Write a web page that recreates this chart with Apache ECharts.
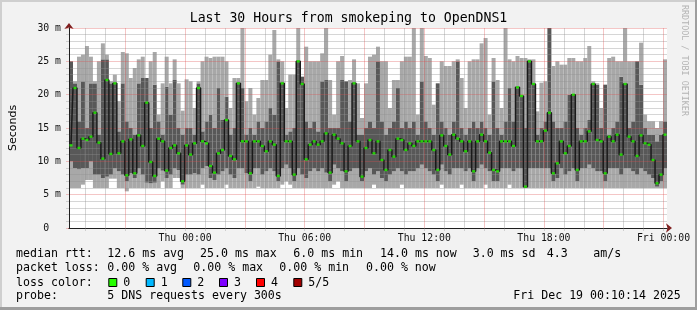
<!DOCTYPE html>
<html><head><meta charset="utf-8">
<script src="https://cdn.jsdelivr.net/npm/echarts@6/dist/echarts.min.js"></script>
<style>html,body{margin:0;padding:0;background:#f2f2f2;}#c{width:697px;height:310px;}</style>
</head><body><div id="c"></div>
<script>
// ---- data: 150 consolidated steps of 12 minutes, Wed 18:10 -> Fri 00:10 (ms) ----
const MAXV = [
25,22,25.7,26,27.3,25.7,22,25,27.7,26,
22,23,19,26.4,26.2,22.5,24,25.3,25.7,22.5,
25,26.4,17,21.7,25.7,21.7,25.3,21.7,17.6,22.3,
22,18,22,25,25.7,25.5,25.7,25.7,25.7,25,
18,22.5,22.5,30,19,21,17,19.5,22.2,22.2,
26,29.7,25.3,25,18,23,23,30,22.7,27.2,
25,25,25,26.2,30,22.2,17,25,25.8,22,
22.2,25.3,21.7,16.5,21.7,25.7,26,27.2,25,25,
18,22.2,22.2,25,25.7,25.7,30,17,30,25.8,
25.5,18.5,21.7,25,24.3,24.3,25,25.3,22.5,18,
25,25.3,25.3,27.7,28.5,17,25.5,22.2,18,30,
25.3,25,25.8,25.5,25.5,25.3,25.3,17.5,21.8,22,
30,24.3,25,24.5,24.5,25.5,25.5,25,25,25.5,
27.3,22,21.7,18,21.5,25.5,25.7,25,25,30,
25,25,25,27.8,17,16,16,15,16,25.3];
const Q3V = [
25,21.7,16,22,15,21.7,21.7,14,25.3,25.3,
21.7,21.7,14.5,21.7,16,15,14,21.7,22.5,22.5,
15,21.5,16,14,21.2,17,22.2,15,14,15,
15,14,21.7,14.5,16,17,15,21,16.2,19.7,
14,15,21.7,21,14,15,14,16,15,16,
18,17,25,21.7,14,14.5,15,25,22.7,16,
15,16,14.5,22,22.2,15,15,15,22.2,22,
16,21.7,14,14,15,16,15,25,16,14,
15,16,21,15,16,15,16,14,22,16,
15,14,21.7,16,15,14,16,25,15,14,
15,16,15,16,15,14,22,15,14,16,
21,16,21.1,19.8,15,25,21.6,14,15,16,
30,16,15,15,16,20,20,15,14,15,
16.2,21.6,21.5,15,21.5,14,15,16,22.7,21.6,
15,16,25,21.5,15,14,14,13,14,16];
const MEDV = [
12.4,21,12,13.4,13.2,13.7,17.3,12.8,10.4,22.2,
11.1,21.7,11.2,13,7.9,13.3,8.2,13.9,12.3,18.8,
9.9,7.8,13.4,13,8.6,12,12.4,11.2,7,12.4,
11,12.7,21,13,12.7,9.3,8.3,11.2,11.7,16.2,
10.8,10.3,21.7,13,13,8.2,13,13,12.3,11.5,
13,12.5,7.8,21.7,13,13,8,25,21.6,10.3,
12.5,13,12.5,13,14.2,8.3,14,13.4,12.7,8.5,
12.3,21.7,13,7.7,12,13.2,11.2,13,10.2,8.7,
11.7,10.7,13.4,13.2,11.7,12.7,12.3,13,13,13,
13,11.7,8.7,13.9,12.3,11,14,13.4,13,11.5,
13,8.5,13,14,13,11.3,8.7,8.5,13,13,
13,12.3,21.1,19.8,6.2,25,21.6,13,13,14.6,
17.3,8.2,9.7,13,11.2,12.3,20,8.7,13,13,
14.5,21.6,13.2,13,8.2,13.7,13,14,11,21.6,
13.7,13,10.8,13.9,12.7,12.5,10.2,6.7,8,14];
const Q1V = [
10,9,8.8,9,9,10,8,8,7.5,7.7,
8,9,8.5,8,7,8.2,7.5,9,8,6.8,
6.7,6.8,9,8.6,7.5,8,9,8.7,6.5,8,
8,8.2,8,9,9.3,7.5,7.2,8,8.5,9,
8,7.5,9,9,8.2,7,9,9,8,8.5,
9,8.5,7,9,9.5,9,7,9,8,7.5,
8.5,9,8.5,9,8.3,7,9.5,9,8.5,7,
8.5,9,9,7,8.5,9,8,8.5,7.5,7,
8,8.5,9,8.5,8,8.5,8.5,9,9.5,9,
8.5,8,7,9.5,8.5,8,9,9,9,8.5,
9,7,9,9.5,9,8.5,7,7,9,9,
9,8.5,9,9,6,9,9,9,9,9,
9,7,7.5,9,8,8.5,9,7,9,9,
9.5,9,8.5,8.5,7,9,9,9,8,9,
9,8.5,8,9,8.5,8,7.5,6.2,7,9];
const MINV = [
6,6,6,6.5,7.2,7.2,6,6,6,6,
7.4,7.4,6,6,5.5,6,6,6,6,6,
6,6,6,7,6,6,7.5,7.5,6,6,
6,6,6,6.5,6,6,6,6,6,6.5,
6,6,6,6,6,6,6,6.2,6,6,
6,6,6,6.5,7,6.5,6,6,6,6,
6,6,6,6,6,6,6.5,7,6,6,
6,6,6,6,6,6,6.5,6,6,6,
6,6,6,6.5,6,6,6,6,6,6,
6,6,6,6.5,6,6,6,6,6.5,6,
6,6,6,6,6.5,6,6,6,6,6,
6.5,6,6,6,6,6,6,6,6,6,
6,6,6,6,6,6,6,6,6,6,
6,6,6,6,6,6,6,6,6,6,
6,6,6,6,6,6,6,6,6,6];
const START_MIN = -349.5, END_MIN = 1450.5, STEP_MIN = 12;     // minutes relative to Thu 00:00
const TICK_LABEL_MINUTES = [0, 360, 720, 1080, 1440];
const TICK_LABELS = ['Thu 00:00', 'Thu 06:00', 'Thu 12:00', 'Thu 18:00', 'Fri 00:00'];
const LOSS_LABELS = ['0', '1', '2', '3', '4', '5/5'];
const LOSS_COLORS = ['#26ff00', '#00b8ff', '#0059ff', '#7e00ff', '#ff0000', '#a10000'];

// ---- derived ----
const cats = MEDV.map((_, i) => START_MIN + (i + 0.5) * STEP_MIN);
const bandLow = MINV.map((v, i) => +(Q1V[i] - v).toFixed(2));
const bandMid = Q1V.map((v, i) => +(Q3V[i] - v).toFixed(2));
const bandHigh = Q3V.map((v, i) => +(MAXV[i] - v).toFixed(2));
const hourTicks = [];
for (let m = -300; m <= 1440; m += 60) hourTicks.push(m);   // -300,-240,-180(red),...

const MONO = 'DejaVu Sans Mono';
const MINOR_GRID = 'rgba(143,143,143,0.37)';
const MAJOR_GRID = 'rgba(222,79,79,0.32)';
const ARROW = '#801f1f';
const AXIS = '#1f1f1f';
const chart = echarts.init(document.getElementById('c'), null, {renderer: 'canvas'});
const T = (x, y, text, extra) => Object.assign({
  type: 'text', x, y, silent: true,
  style: Object.assign({text, font: '11.6px "DejaVu Sans Mono"', fill: '#000', textVerticalAlign: 'middle'}, extra || {})
});
const graphics = [
  {type: 'rect', shape: {x: 0, y: 0, width: 697, height: 2}, style: {fill: '#cfcfcf'}, silent: true},
  {type: 'rect', shape: {x: 0, y: 0, width: 2, height: 310}, style: {fill: '#cfcfcf'}, silent: true},
  {type: 'rect', shape: {x: 695, y: 0, width: 2, height: 310}, style: {fill: '#9e9e9e'}, silent: true},
  {type: 'rect', shape: {x: 0, y: 307, width: 697, height: 3}, style: {fill: '#9e9e9e'}, silent: true},
  T(348.5, 19, 'Last 30 Hours from smokeping to OpenDNS1', {font: '13.2px "DejaVu Sans Mono"', textAlign: 'center'}),
  {type: 'text', x: 684, y: 5, rotation: -Math.PI / 2, silent: true,
   style: {text: 'RRDTOOL / TOBI OETIKER', font: '8.4px "DejaVu Sans Mono"', fill: '#b4b4b4', textVerticalAlign: 'middle'}},
  T(16, 254, 'median rtt:'), T(107.3, 254, '12.6 ms avg'), T(200, 254, '25.0 ms max'),
  T(293.3, 254, '6.0 ms min'), T(380, 254, '14.0 ms now'), T(472.7, 254, '3.0 ms sd'),
  T(546.7, 254, '4.3'), T(593.3, 254, 'am/s'),
  T(16, 268.3, 'packet loss:'), T(107.3, 268.3, '0.00 % avg'), T(193.3, 268.3, '0.00 % max'),
  T(279.3, 268.3, '0.00 % min'), T(366, 268.3, '0.00 % now'),
  T(16, 282.7, 'loss color:'),
  T(16, 296, 'probe:'), T(107.3, 296, '5 DNS requests every 300s'),
  T(513.3, 296, 'Fri Dec 19 00:10:14 2025')
];
const sqX = [108.3, 145.7, 182.3, 219, 256, 293.3];
LOSS_LABELS.forEach((lab, i) => {
  graphics.push({type: 'rect', silent: true, shape: {x: sqX[i] + 0.5, y: 278.5, width: 8, height: 8},
    style: {fill: LOSS_COLORS[i], stroke: '#000', lineWidth: 1}});
  graphics.push(T(sqX[i] + 15, 282.7, lab));
});

const barBase = {type: 'bar', stack: 'smoke', xAxisIndex: 0, yAxisIndex: 0, barCategoryGap: '0%', silent: true, z: 2};
chart.setOption({
  animation: false,
  backgroundColor: '#f2f2f2',
  grid: {left: 67, top: 28, width: 600, height: 200, show: true, backgroundColor: '#ffffff', borderWidth: 0},
  xAxis: [
    {type: 'category', data: cats, boundaryGap: true, position: 'bottom', z: 1,
     axisLine: {show: true, onZero: false, lineStyle: {color: ARROW, width: 1}, symbol: ['none', 'arrow'], symbolSize: [7, 6], symbolOffset: [0, 5]},
     axisTick: {show: false}, axisLabel: {show: false}, splitLine: {show: false}},
    {type: 'value', min: START_MIN, max: END_MIN, position: 'bottom', z: 3,
     axisLine: {show: true, onZero: false, lineStyle: {color: AXIS, width: 1}},
     axisTick: {show: true, length: 3, customValues: hourTicks, lineStyle: {color: MINOR_GRID}},
     axisLabel: {customValues: TICK_LABEL_MINUTES, margin: 5, fontFamily: MONO, fontSize: 9.8, color: '#111',
       formatter: v => TICK_LABELS[TICK_LABEL_MINUTES.indexOf(v)] || ''},
     splitLine: {show: true, lineStyle: {color: [MINOR_GRID, MINOR_GRID, MAJOR_GRID], type: 'solid', width: 1}}}
  ],
  yAxis: [
    {type: 'value', min: 0, max: 30, interval: 5, position: 'left', z: 3,
     name: 'Seconds', nameLocation: 'middle', nameGap: 50,
     nameTextStyle: {fontFamily: 'DejaVu Sans', fontSize: 11, color: '#000'},
     axisLine: {show: true, onZero: false, lineStyle: {color: AXIS, width: 1}},
     axisTick: {show: true, length: 3, lineStyle: {color: MAJOR_GRID}},
     minorTick: {show: true, splitNumber: 5, length: 3, lineStyle: {color: MINOR_GRID}},
     axisLabel: {margin: 8, fontFamily: MONO, fontSize: 9.8, color: '#111',
       formatter: v => v === 0 ? '0  ' : v + ' m'},
     splitLine: {show: true, lineStyle: {color: MAJOR_GRID, type: 'solid', width: 1}},
     minorSplitLine: {show: true, lineStyle: {color: MINOR_GRID, type: 'solid', width: 1}}},
    {type: 'value', min: 0, max: 30, position: 'left', offset: 0, z: 1,
     axisLine: {show: true, onZero: false, lineStyle: {color: ARROW, width: 1}, symbol: ['none', 'arrow'], symbolSize: [7, 6], symbolOffset: [0, 5]},
     axisTick: {show: false}, axisLabel: {show: false}, splitLine: {show: false}}
  ],
  graphic: graphics,
  series: [
    Object.assign({}, barBase, {name: 'min', data: MINV, itemStyle: {color: 'rgba(0,0,0,0)'}}),
    Object.assign({}, barBase, {name: 'p2', data: bandLow, itemStyle: {color: '#a8a8a8'}}),
    Object.assign({}, barBase, {name: 'p4', data: bandMid, itemStyle: {color: '#585858'}}),
    Object.assign({}, barBase, {name: 'p5', data: bandHigh, itemStyle: {color: '#a8a8a8'}}),
    {type: 'line', xAxisIndex: 0, yAxisIndex: 0, data: MEDV, step: 'middle', showSymbol: false, silent: true, z: 4,
     lineStyle: {color: '#1a1a1a', width: 1.5}},
    {type: 'scatter', xAxisIndex: 0, yAxisIndex: 0, data: MEDV, symbol: 'rect', symbolSize: [3, 2.4], silent: true, z: 5,
     itemStyle: {color: '#26ff00'}}
  ]
});
</script></body></html>
